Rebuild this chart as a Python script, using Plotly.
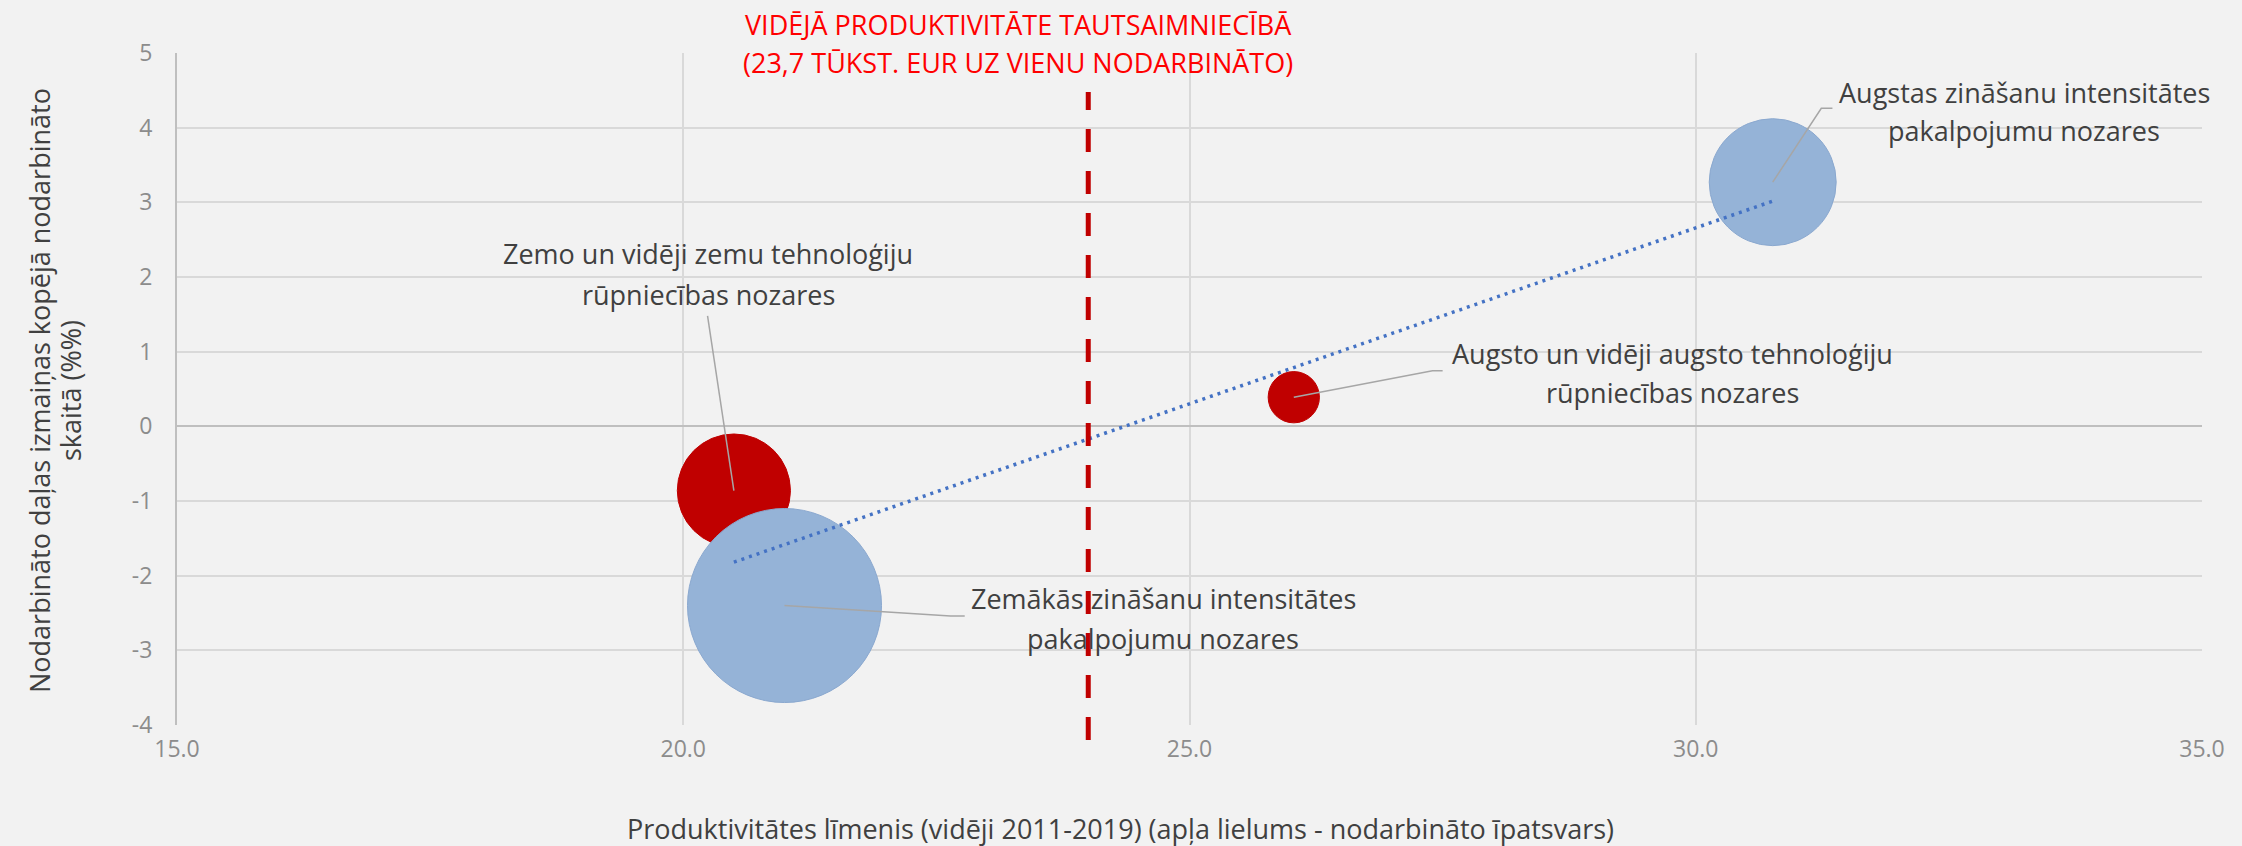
import numpy as np
import plotly.graph_objects as go

# ---------------- data ----------------
sectors = [
    "Zemo un vidēji zemu tehnoloģiju rūpniecības nozares",
    "Augsto un vidēji augsto tehnoloģiju rūpniecības nozares",
    "Augstas zināšanu intensitātes pakalpojumu nozares",
    "Zemākās zināšanu intensitātes pakalpojumu nozares",
]
productivity = [20.5, 26.03, 30.76, 21.0]          # x: productivity level (avg 2011-2019)
emp_share_change = [-0.86, 0.39, 3.27, -2.40]       # y: change in employment share (pp)
emp_share = [18.5, 3.8, 23.3, 54.4]                 # bubble size: employment share (%)
sector_group = ["manufacturing", "manufacturing", "services", "services"]
avg_productivity = 24.0                             # position of the dashed reference line

x_tick_vals = [15, 20, 25, 30, 35]
x_tick_text = ["15.0", "20.0", "25.0", "30.0", "35.0"]
y_tick_vals = [-4, -3, -2, -1, 0, 1, 2, 3, 4, 5]
y_tick_text = ["-4", "-3", "-2", "-1", "0", "1", "2", "3", "4", "5"]

label_lines = [
    ["Zemo un vidēji zemu tehnoloģiju", "rūpniecības nozares"],
    ["Augsto un vidēji augsto tehnoloģiju", "rūpniecības nozares"],
    ["Augstas zināšanu intensitātes", "pakalpojumu nozares"],
    ["Zemākās zināšanu intensitātes", "pakalpojumu nozares"],
]
title_lines = ["VIDĒJĀ PRODUKTIVITĀTE TAUTSAIMNIECĪBĀ",
               "(23,7 TŪKST. EUR UZ VIENU NODARBINĀTO)"]
x_title = "Produktivitātes līmenis (vidēji 2011-2019) (apļa lielums - nodarbināto īpatsvars)"
y_title_lines = ["Nodarbināto daļas izmaiņas kopējā nodarbināto", "skaitā (%%)"]

# ---------------- styling / layout ----------------
W, H = 2242, 846
L, R, T, B = 177, 40, 53, 121
PW, PH = W - L - R, H - T - B
BG = "#F2F2F2"
GRID = "#D9D9D9"
TEXT = "#404040"
TICK = "#8C8C8C"
FONT = "Open Sans"
group_colors = {"manufacturing": "#C00000", "services": "#95B3D7"}
group_lines = {"manufacturing": "#C00000", "services": "#8AA8CF"}
max_diam_px = 194


def px_x(p):
    return (p - L) / PW


def px_y(p):
    return (H - B - p) / PH


fig = go.Figure()

fig.add_trace(go.Scatter(
    x=productivity, y=emp_share_change, mode="markers",
    text=sectors, hoverinfo="text", cliponaxis=False,
    marker=dict(
        size=emp_share, sizemode="area",
        sizeref=2.0 * max(emp_share) / max_diam_px ** 2,
        color=[group_colors[g] for g in sector_group],
        line=dict(color=[group_lines[g] for g in sector_group], width=1),
        opacity=1,
    ),
    showlegend=False,
))

# linear trendline across the data range
coef = np.polyfit(productivity, emp_share_change, 1)
tx = np.array([min(productivity), max(productivity)])
fig.add_trace(go.Scatter(
    x=tx, y=np.polyval(coef, tx), mode="lines",
    line=dict(color="#4472C4", width=3.5, dash="3px,5px"),
    hoverinfo="skip", showlegend=False,
))

shapes = []
# dashed average-productivity line
shapes.append(dict(type="line", xref="x", yref="paper",
                   x0=avg_productivity, x1=avg_productivity,
                   y0=px_y(740), y1=px_y(92),
                   line=dict(color="#C00000", width=5, dash="23px,19px"),
                   layer="above"))

# leader lines: (elbow points in data coords) for each label
leader_pts = [
    [(20.24, 1.48)],
    [(27.40, 0.745), (27.50, 0.745)],
    [(31.24, 4.26), (31.35, 4.26)],
    [(22.64, -2.54), (22.78, -2.54)],
]
for i, pts in enumerate(leader_pts):
    path = f"M {productivity[i]},{emp_share_change[i]}"
    for (lx, ly) in pts:
        path += f" L {lx},{ly}"
    shapes.append(dict(type="path", xref="x", yref="y", path=path,
                       line=dict(color="#A6A6A6", width=1.5), layer="above"))

annotations = []
# data label positions in pixels (center x, line centers y)
label_pos = [
    (708, [253, 294]),
    (1672, [353, 392]),
    (2024, [92, 130]),
    (1163, [598, 638]),
]
for lines, (cx, ys) in zip(label_lines, label_pos):
    for txt, cy in zip(lines, ys):
        annotations.append(dict(text=txt, xref="paper", yref="paper",
                                x=px_x(cx), y=px_y(cy), xanchor="center", yanchor="middle",
                                showarrow=False, font=dict(family=FONT, size=27, color=TEXT)))

for txt, cy in zip(title_lines, [24, 63]):
    annotations.append(dict(text=txt, xref="paper", yref="paper",
                            x=px_x(1018), y=px_y(cy), xanchor="center", yanchor="middle",
                            showarrow=False, font=dict(family=FONT, size=27, color="#FF0000")))

annotations.append(dict(text=x_title, xref="paper", yref="paper",
                        x=px_x(1120), y=px_y(828), xanchor="center", yanchor="middle",
                        showarrow=False, font=dict(family=FONT, size=27, color=TEXT)))

for txt, cx in zip(y_title_lines, [39, 70]):
    annotations.append(dict(text=txt, xref="paper", yref="paper", textangle=-90,
                            x=px_x(cx), y=px_y(391), xanchor="center", yanchor="middle",
                            showarrow=False, font=dict(family=FONT, size=27, color=TEXT)))

fig.update_layout(
    width=W, height=H,
    margin=dict(l=L, r=R, t=T, b=B, pad=0),
    paper_bgcolor=BG, plot_bgcolor=BG,
    font=dict(family=FONT, color=TEXT),
    shapes=shapes, annotations=annotations,
    xaxis=dict(range=[15, 35], tickvals=x_tick_vals, ticktext=x_tick_text,
               showgrid=True, gridcolor=GRID, gridwidth=1.5, zeroline=False,
               showline=False, ticks="", ticklabelstandoff=8,
               tickfont=dict(family=FONT, size=23, color=TICK)),
    yaxis=dict(range=[-4, 5], tickvals=y_tick_vals, ticktext=y_tick_text,
               showgrid=True, gridcolor=GRID, gridwidth=1.5,
               zeroline=True, zerolinecolor="#BFBFBF", zerolinewidth=2,
               showline=True, linecolor="#BFBFBF", linewidth=2,
               ticks="", ticklabelstandoff=18,
               tickfont=dict(family=FONT, size=23, color=TICK)),
)

fig.write_html(
    "out.html",
    config={"displayModeBar": False},
    post_script="document.body.style.margin='0';document.body.style.padding='0';"
                "document.body.style.background='#F2F2F2';",
)
